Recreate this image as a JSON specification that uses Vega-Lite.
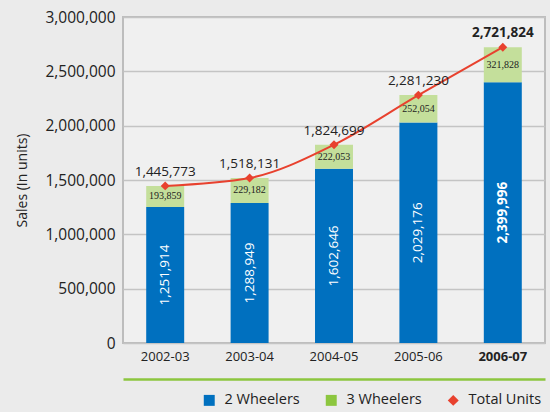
{
  "$schema": "https://vega.github.io/schema/vega-lite/v6.json",
  "width": 422,
  "height": 326,
  "autosize": "none",
  "padding": {"left": 123, "top": 17, "right": 5, "bottom": 69},
  "background": "#ebebeb",
  "config": {
    "font": "Open Sans",
    "view": {"fill": "#f0f0f0", "stroke": "#bdbdbd", "strokeWidth": 2},
    "axis": {"labelFont": "Open Sans", "labelColor": "#222222", "titleColor": "#222222", "titleFont": "Open Sans"},
    "legend": {"symbolStrokeWidth": 0}
  },
  "data": {
    "values": [
      {"year": "2002-03", "type": "2 Wheelers", "value": 1251914},
      {"year": "2002-03", "type": "3 Wheelers", "value": 193859},
      {"year": "2002-03", "type": "Total Units", "value": 1445773},
      {"year": "2003-04", "type": "2 Wheelers", "value": 1288949},
      {"year": "2003-04", "type": "3 Wheelers", "value": 229182},
      {"year": "2003-04", "type": "Total Units", "value": 1518131},
      {"year": "2004-05", "type": "2 Wheelers", "value": 1602646},
      {"year": "2004-05", "type": "3 Wheelers", "value": 222053},
      {"year": "2004-05", "type": "Total Units", "value": 1824699},
      {"year": "2005-06", "type": "2 Wheelers", "value": 2029176},
      {"year": "2005-06", "type": "3 Wheelers", "value": 252054},
      {"year": "2005-06", "type": "Total Units", "value": 2281230},
      {"year": "2006-07", "type": "2 Wheelers", "value": 2399996},
      {"year": "2006-07", "type": "3 Wheelers", "value": 321828},
      {"year": "2006-07", "type": "Total Units", "value": 2721824}
    ]
  },
  "resolve": {"axis": {"x": "independent"}},
  "layer": [
    {
      "transform": [{"filter": "datum.type !== 'Total Units'"}],
      "mark": {"type": "bar", "fill": {"expr": "datum.type === '3 Wheelers' ? '#c4df9b' : '#0070bf'"}},
      "encoding": {
        "x": {
          "field": "year", "type": "nominal",
          "scale": {"paddingInner": 0.55, "paddingOuter": 0.275},
          "axis": {
            "title": null, "labelAngle": 0, "ticks": false, "domain": false, "grid": false,
            "labelFontSize": 13, "labelPadding": 7,
            "labelFontWeight": {"condition": {"test": "datum.value === '2006-07'", "value": "bold"}, "value": "normal"}
          }
        },
        "y": {
          "field": "value", "type": "quantitative", "stack": "zero",
          "scale": {"domain": [0, 3000000], "nice": false},
          "axis": {
            "title": "Sales (In units)", "titleFontSize": 14, "titleFontWeight": "normal", "titlePadding": 15,
            "format": ",d", "tickCount": 6, "ticks": false, "domain": false,
            "labelFontSize": 15.5, "labelPadding": 8,
            "gridColor": "#c4c4c4", "gridWidth": 1.5
          }
        },
        "detail": {"field": "type"},
        "order": {"field": "type", "sort": "ascending"}
      }
    },
    {
      "transform": [{"filter": "datum.type !== 'Total Units'"}],
      "mark": {
        "type": "text",
        "angle": {"expr": "datum.type === '2 Wheelers' ? 270 : 0"},
        "fontSize": {"expr": "datum.type === '2 Wheelers' ? 13.5 : 10"},
        "font": {"expr": "datum.type === '2 Wheelers' ? 'Open Sans' : 'Liberation Sans Narrow'"},
        "fill": {"expr": "datum.type === '2 Wheelers' ? '#ffffff' : '#222222'"},
        "fontWeight": {"expr": "datum.type === '2 Wheelers' && datum.year === '2006-07' ? 'bold' : 'normal'"},
        "baseline": "middle",
        "align": "center"
      },
      "encoding": {
        "x": {"field": "year", "type": "nominal", "axis": null},
        "y": {"field": "value", "type": "quantitative", "stack": "zero", "bandPosition": 0.5},
        "detail": {"field": "type"},
        "order": {"field": "type", "sort": "ascending"},
        "text": {"field": "value", "type": "quantitative", "format": ",d"}
      }
    },
    {
      "transform": [{"filter": "datum.type === 'Total Units'"}],
      "mark": {"type": "line", "interpolate": "monotone", "strokeWidth": 2, "color": "#e8412e"},
      "encoding": {
        "x": {"field": "year", "type": "nominal", "axis": null},
        "y": {"field": "value", "type": "quantitative"}
      }
    },
    {
      "transform": [{"filter": "datum.type === 'Total Units'"}],
      "mark": {"type": "point", "filled": true, "size": 80, "opacity": 1},
      "encoding": {
        "x": {
          "field": "year", "type": "nominal",
          "axis": {"orient": "bottom", "offset": 36, "labels": false, "ticks": false, "title": null, "grid": false, "domain": true, "domainColor": "#8cc63f", "domainWidth": 2.5}
        },
        "y": {"field": "value", "type": "quantitative"},
        "color": {
          "field": "type", "type": "nominal",
          "scale": {"domain": ["2 Wheelers", "3 Wheelers", "Total Units"], "range": ["#0070bf", "#8cc63f", "#e8412e"]},
          "legend": {
            "orient": "none", "legendX": 79, "legendY": 376, "direction": "horizontal", "title": null,
            "symbolSize": 120, "labelFontSize": 14.5, "labelColor": "#222222", "labelFont": "Open Sans",
            "columnPadding": 24, "labelOffset": 8, "padding": 0, "symbolOpacity": 1
          }
        },
        "shape": {
          "field": "type", "type": "nominal",
          "scale": {"domain": ["2 Wheelers", "3 Wheelers", "Total Units"], "range": ["square", "square", "diamond"]},
          "legend": {
            "orient": "none", "legendX": 79, "legendY": 376, "direction": "horizontal", "title": null,
            "symbolSize": 120, "labelFontSize": 14.5, "labelColor": "#222222", "labelFont": "Open Sans",
            "columnPadding": 24, "labelOffset": 8, "padding": 0, "symbolOpacity": 1
          }
        }
      }
    },
    {
      "transform": [{"filter": "datum.type === 'Total Units'"}],
      "mark": {
        "type": "text", "dy": -14, "fontSize": 13.5, "fill": "#222222", "baseline": "middle",
        "fontWeight": {"expr": "datum.year === '2006-07' ? 'bold' : 'normal'"}
      },
      "encoding": {
        "x": {"field": "year", "type": "nominal", "axis": null},
        "y": {"field": "value", "type": "quantitative"},
        "text": {"field": "value", "type": "quantitative", "format": ",d"}
      }
    }
  ]
}
